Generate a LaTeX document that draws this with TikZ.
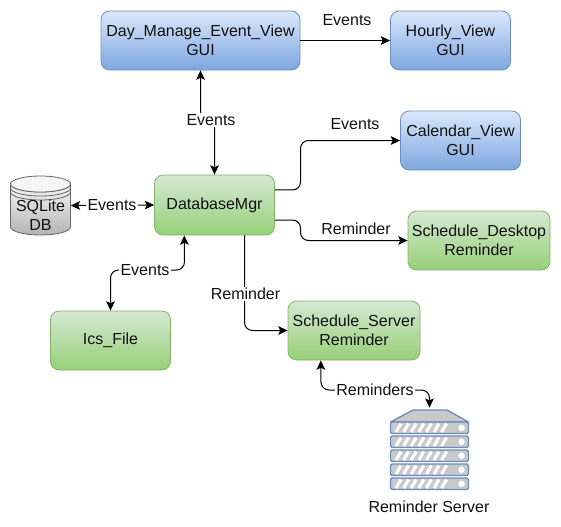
\documentclass[tikz,border=0pt]{standalone}
\usepackage{fontspec}
\setmainfont{Liberation Sans}
\usetikzlibrary{arrows.meta,calc}
\def\u{0.75pt}
\definecolor{ink}{HTML}{111111}
\definecolor{blueA}{HTML}{DAE8FC}
\definecolor{blueB}{HTML}{7EA6E0}
\definecolor{blueline}{HTML}{6C8EBF}
\definecolor{greenA}{HTML}{D5E8D4}
\definecolor{greenB}{HTML}{97D077}
\definecolor{greenline}{HTML}{82B366}
\definecolor{cylA}{HTML}{F5F5F5}
\definecolor{cylB}{HTML}{B3B3B3}
\definecolor{cylLine}{HTML}{666666}
\definecolor{srvgrey}{HTML}{C9C9C9}
\tikzset{
  x=0.75pt,y=-0.75pt,
  every node/.style={font=\fontsize{12}{14.25}\selectfont,text=ink,align=center,inner sep=0pt},
  panel/.style={draw,rounded corners=6.5pt,line width=0.6pt},
  bluebox/.style={panel,draw=blueline,top color=blueA,bottom color=blueB},
  greenbox/.style={panel,draw=greenline,top color=greenA,bottom color=greenB},
  link/.style={draw=black,line width=0.75pt,rounded corners=6pt,-{Stealth[length=7pt,width=6.5pt,inset=1.5pt]}},
  dlink/.style={link,{Stealth[length=7pt,width=6.5pt,inset=1.5pt]}-{Stealth[length=7pt,width=6.5pt,inset=1.5pt]}},
  tag/.style={fill=white,inner xsep=1pt,inner ysep=1pt},
  freetag/.style={},
  srvunit/.style={draw=blueline,fill=srvgrey,line width=1pt,rounded corners=1.2pt},
  stripe/.style={white,line width=2.3pt},
  cylstroke/.style={draw=cylLine,line width=0.6pt},
}
\begin{document}
\begin{tikzpicture}
\useasboundingbox (0,0) rectangle (561,526);
% boxes
\node[bluebox,minimum width=199*\u,minimum height=59*\u] (day) at (200.5,40.5) {Day\_Manage\_Event\_View\\GUI};
\node[bluebox,minimum width=120*\u,minimum height=59*\u] (hour) at (450.5,40.5) {Hourly\_View\\GUI};
\node[bluebox,minimum width=120*\u,minimum height=59*\u] (cal) at (460.5,140.5) {Calendar\_View\\GUI};
\node[greenbox,minimum width=142*\u,minimum height=59*\u] (desk) at (479,240.5) {Schedule\_Desktop\\Reminder};
\node[greenbox,minimum width=120*\u,minimum height=60*\u] (db) at (214.5,205) {\raisebox{-0.75pt}{DatabaseMgr}};
\node[greenbox,minimum width=120*\u,minimum height=59*\u] (ics) at (110.5,340.5) {\raisebox{-0.75pt}{Ics\_File}};
\node[greenbox,minimum width=132*\u,minimum height=59*\u] (serv) at (354,330.5) {Schedule\_Server\\Reminder};
% database cylinder
\node[minimum width=60*\u,minimum height=60*\u] (sql) at (40.5,205.5) {};
\draw[cylstroke,top color=cylA,bottom color=cylB]
  (10.5,184) arc[start angle=180,end angle=0,x radius=30,y radius=8] -- (70.5,227)
  arc[start angle=0,end angle=180,x radius=30,y radius=8] -- cycle;
\draw[cylstroke,fill=cylA] (40.5,184) ellipse[x radius=30,y radius=8];
\draw[cylstroke] (10.5,188) arc[start angle=180,end angle=0,x radius=30,y radius=8];
\draw[cylstroke] (10.5,192) arc[start angle=180,end angle=0,x radius=30,y radius=8];
\node (sqltext) at (40.5,215.5) {SQLite\\DB};
% server
\node[minimum width=80*\u,minimum height=82*\u] (srv) at (429.5,449) {};
\draw[draw=blueline,fill=srvgrey,line width=1pt,line join=round] (390.5,422) -- (413,410) -- (447,410) -- (468.5,422) -- cycle;
\foreach \t in {422,436,450,464,478}{
  \draw[srvunit] (390.5,\t) rectangle (468.5,\t+11.5);
  \foreach \s in {0,1,2,3,4,5,6}{
    \draw[stripe] (396+\s*7.6,\t+10) -- (401+\s*7.6,\t+1.5);
  }
  \fill[white] (461.5,\t+5.8) circle[radius=3.2];
}
\node (srvlabel) at (429,506.5) {Reminder Server};
% connectors
\draw[link] (day.east) -- (hour.west);
\node[freetag] (l1) at (347,20) {Events};
\draw[dlink] (day.south) -- (200.5,120) -- (214.5,120) -- (db.north);
\node[tag] (l2) at (211,120) {Events};
\draw[link] ($(db.north east)!0.25!(db.south east)$) -- (300.5,190) -- (300.5,140.5) -- (cal.west);
\node[freetag] (l3) at (355,124) {Events};
\draw[link] ($(db.north east)!0.75!(db.south east)$) -- (300.5,220) -- (300.5,240.5) -- (desk.west);
\node[freetag] (l4) at (356,229) {Reminder};
\draw[dlink] (sql.east) -- (db.west);
\node[tag] (l5) at (112,205.5) {Events};
\draw[dlink] ($(db.south west)!0.25!(db.south east)$) -- (184.5,270) -- (110.5,270) -- (ics.north);
\node[tag] (l6) at (145,270) {Events};
\draw[link] ($(db.south west)!0.75!(db.south east)$) -- (244.5,330.5) -- (serv.west);
\node[tag] (l7) at (245.5,294) {Reminder};
\draw[dlink] ($(serv.south west)!0.25!(serv.south east)$) -- (321,390) -- (429.5,390) -- (srv.north);
\node[tag] (l8) at (375,390) {Reminders};
\end{tikzpicture}
\end{document}
